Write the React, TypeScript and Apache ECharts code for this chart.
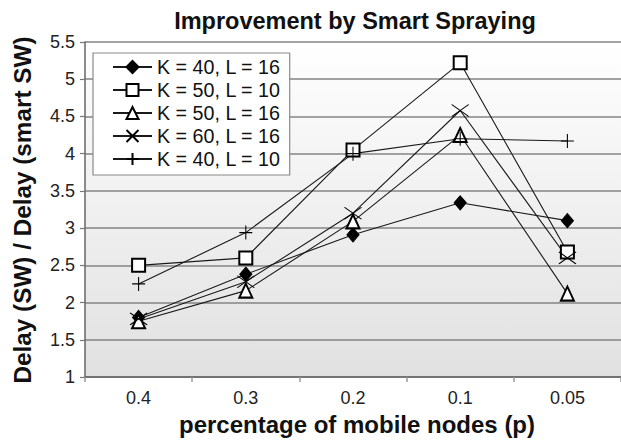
import React, { useEffect, useRef } from "react";
import * as echarts from "echarts";

const categories = ["0.4", "0.3", "0.2", "0.1", "0.05"];
const k40l16 = [1.8, 2.38, 2.91, 3.34, 3.1];
const k50l10 = [2.5, 2.6, 4.05, 5.22, 2.68];
const k50l16 = [1.75, 2.16, 3.09, 4.25, 2.12];
const k60l16 = [1.78, 2.28, 3.2, 4.58, 2.6];
const k40l10 = [2.25, 2.94, 4.0, 4.2, 4.17];
const seriesNames = ["K = 40, L = 16", "K = 50, L = 10", "K = 50, L = 16", "K = 60, L = 16", "K = 40, L = 10"];

const FONT = "'Liberation Sans', Arial, sans-serif";

export default function App() {
  const ref = useRef<HTMLDivElement>(null);
  useEffect(() => {
    if (!ref.current) return;
    const chart = echarts.init(ref.current, null, { renderer: "svg" });
    const lineStyle = { color: "#1a1a1a", width: 1.1 };
    const mk = (name: string, data: number[], symbol: string, size: any) => ({
      name,
      type: "line",
      data,
      symbol,
      symbolSize: size,
      showAllSymbol: true,
      lineStyle,
      itemStyle: { color: "#000", borderColor: "#000", borderWidth: 1.1 },
    });
    chart.setOption({
      animation: false,
      backgroundColor: "#fff",
      textStyle: { fontFamily: FONT },
      grid: {
        left: 85,
        top: 42,
        width: 548,
        height: 335,
        show: true,
        borderWidth: 0,
        backgroundColor: new echarts.graphic.LinearGradient(0, 0, 0, 1, [
          { offset: 0, color: "#ffffff" },
          { offset: 1, color: "#e1e1e1" },
        ]),
      },
      xAxis: {
        type: "category",
        data: categories,
        boundaryGap: true,
        axisLine: { show: true, lineStyle: { color: "#666", width: 1.5 } },
        axisTick: { show: true, length: 5, lineStyle: { color: "#999", width: 1.5 } },
        axisLabel: { color: "#222", fontSize: 18, margin: 12, fontFamily: FONT },
        splitLine: { show: false },
      },
      yAxis: {
        type: "value",
        min: 1,
        max: 5.5,
        interval: 0.5,
        axisLine: { show: true, lineStyle: { color: "#666", width: 1.5 } },
        axisTick: { show: true, length: 5, lineStyle: { color: "#777", width: 1.2 } },
        axisLabel: { color: "#222", fontSize: 18, margin: 10, fontFamily: FONT },
        splitLine: { show: true, lineStyle: { color: "#858585", width: 1.5 } },
      },
      legend: {
        orient: "vertical",
        left: 93,
        top: 53,
        backgroundColor: "#fff",
        borderColor: "#8a8a8a",
        borderWidth: 1.2,
        padding: [4, 9, 6, 19],
        itemWidth: 39,
        itemHeight: 15,
        itemGap: 3,
        textStyle: { fontSize: 19.7, color: "#111", fontFamily: FONT },
        data: seriesNames,
      },
      graphic: [
        {
          type: "text",
          x: 355,
          y: 21,
          style: {
            text: "Improvement by Smart Spraying",
            font: `bold 23.5px ${FONT}`,
            fill: "#111",
            align: "center",
            verticalAlign: "middle",
          },
        },
        {
          type: "text",
          x: 357,
          y: 424,
          style: {
            text: "percentage of mobile nodes (p)",
            font: `bold 24px ${FONT}`,
            fill: "#111",
            align: "center",
            verticalAlign: "middle",
          },
        },
        {
          type: "text",
          x: 22,
          y: 210,
          rotation: Math.PI / 2,
          style: {
            text: "Delay (SW) / Delay (smart SW)",
            font: `bold 24.3px ${FONT}`,
            fill: "#111",
            align: "center",
            verticalAlign: "middle",
          },
        },
      ],
      series: [
        mk(seriesNames[0], k40l16, "diamond", [12, 14]),
        mk(seriesNames[1], k50l10, "emptyRect", [13, 13]),
        mk(seriesNames[2], k50l16, "emptyTriangle", [13, 14]),
        mk(seriesNames[3], k60l16, "path://M-1,-0.7L1,0.7M-1,0.7L1,-0.7", [17, 12]),
        mk(seriesNames[4], k40l10, "path://M0,-1L0,1M-1,0L1,0", [13, 14]),
      ],
    });
    return () => chart.dispose();
  }, []);
  return (
    <div
      ref={ref}
      style={{ position: "fixed", left: 0, top: 0, width: 621, height: 442 }}
    />
  );
}
